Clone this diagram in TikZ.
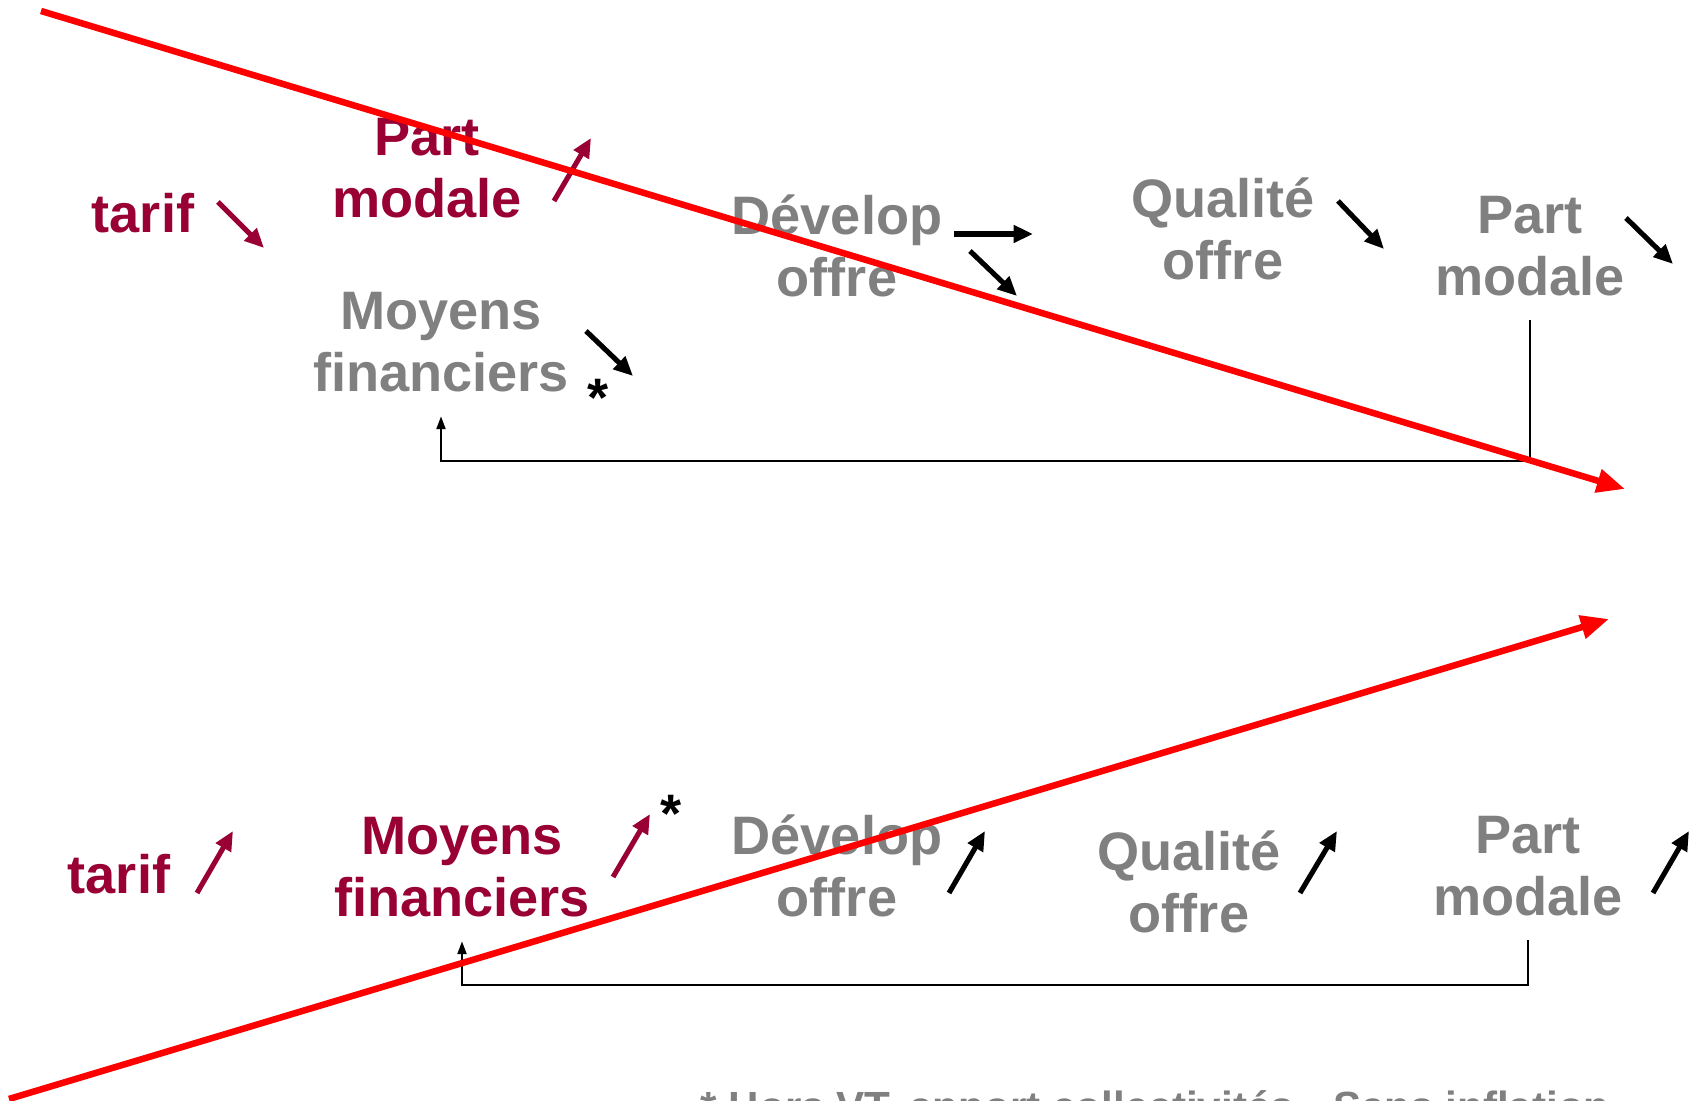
\documentclass[tikz,border=0pt]{standalone}
\usepackage{fontspec}
\setmainfont{Liberation Sans}
\usetikzlibrary{arrows.meta}
\definecolor{bordeaux}{HTML}{990033}
\definecolor{gris}{HTML}{808080}
\tikzset{
  lbl/.style={inner sep=0pt, align=center, font=\fontsize{15.4}{17.6}\selectfont\bfseries},
  redlbl/.style={lbl, text=bordeaux},
  greylbl/.style={lbl, text=gris},
  trend/.style={line width=1.45pt, -{Triangle[length=5.5pt,width=4.8pt]}},
  redtrend/.style={trend, bordeaux},
  fb/.style={line width=0.45pt, -{Triangle[length=3.6pt,width=2.6pt]}, shorten <=6.8pt, shorten >=6.8pt},
  bigarrow/.style={line width=1.85pt, red, -{Triangle[length=8pt,width=6.5pt]}}
}
\begin{document}
\begin{tikzpicture}[x=0.01cm, y=-0.01cm]
\useasboundingbox (0,0) rectangle (1696,1101);

% upper chain
\node[redlbl] (tarifA) at (143,213) {tarif};
\node[redlbl] (partA) at (427,168) {Part\\modale};
\node[greylbl] (moyensA) at (441,342) {Moyens\\financiers};
\node[greylbl] (devA) at (837,246) {Dévelop\\offre};
\node[greylbl] (qualA) at (1223,229) {Qualité\\offre};
\node[greylbl] (partmA) at (1530,246) {Part\\modale};
\node[lbl] (starA) at (598,398) {*};

\draw[redtrend] (218,202) -- (264,248);
\draw[redtrend] (554,201) -- (591,138);
\draw[trend] (586,331) -- (633,376);
\draw[trend] (954,234) -- (1033,234);
\draw[trend] (970,251) -- (1017,296);
\draw[trend] (1338,201) -- (1384,249);
\draw[trend] (1626,218) -- (1673,264);

\coordinate (loopA) at (1000,461);
\draw[fb] (partmA.south) |- (loopA) -| (moyensA.south);

% lower chain
\node[redlbl] (tarifB) at (119,874) {tarif};
\node[redlbl] (moyensB) at (462,867) {Moyens\\financiers};
\node[greylbl] (devB) at (837,866) {Dévelop\\offre};
\node[greylbl] (qualB) at (1189,882) {Qualité\\offre};
\node[greylbl] (partmB) at (1528,866) {Part\\modale};
\node[lbl] (starB) at (671,814) {*};

\draw[redtrend] (197,893) -- (233,831);
\draw[redtrend] (613,877) -- (650,814);
\draw[trend] (949,893) -- (985,831);
\draw[trend] (1300,893) -- (1337,831);
\draw[trend] (1653,893) -- (1689,831);

\coordinate (loopB) at (1000,985);
\draw[fb] (partmB.south) |- (loopB) -| (moyensB.south);

% big trend arrows
\coordinate (topstart) at (41,11);
\coordinate (topend) at (1625,489);
\coordinate (botstart) at (9,1099);
\coordinate (botend) at (1609,619);
\draw[bigarrow] (topstart) -- (topend);
\draw[bigarrow] (botstart) -- (botend);

\node[anchor=base west, inner sep=0pt, text=gris, font=\fontsize{12}{14}\selectfont\bfseries] (note) at (700,1122) {* Hors VT, apport collectivités.~ Sans inflation};
\end{tikzpicture}
\end{document}
